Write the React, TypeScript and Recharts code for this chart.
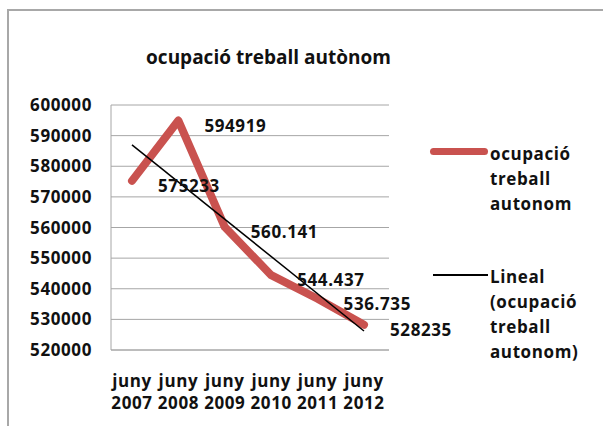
import React from 'react';
import { LineChart, Line, XAxis, YAxis, CartesianGrid, Legend, LabelList, ReferenceLine } from 'recharts';

const categories = ['juny 2007', 'juny 2008', 'juny 2009', 'juny 2010', 'juny 2011', 'juny 2012'];
const ocupacio = [575233, 594919, 560141, 544437, 536735, 528235];
const labelTexts = ['575233', '594919', '560.141', '544.437', '536.735', '528235'];
const yTicks = [520000, 530000, 540000, 550000, 560000, 570000, 580000, 590000, 600000];
// trend line ends
const trendStart = 587000;
const trendEnd = 526200;

const data = categories.map((c, i) => ({ cat: c, value: ocupacio[i] }));

const FONT = '"Open Sans", "Noto Sans", sans-serif';
const RED = '#C9524F';
const GRID = '#a6a6a6';
const FS = 17;
const LS = 0.6;

const XTick = ({ x, y, payload }: any) => {
  const [m, yr] = String(payload.value).split(' ');
  return (
    <text x={x} y={y} textAnchor="middle" fontFamily={FONT} fontWeight={700} fontSize={FS} letterSpacing={LS} fill="#111">
      <tspan x={x} dy={37}>{m}</tspan>
      <tspan x={x} dy={22}>{yr}</tspan>
    </text>
  );
};

const YTick = ({ x, y, payload }: any) => (
  <text x={x} y={y} dy="0.36em" textAnchor="end" fontFamily={FONT} fontWeight={700} fontSize={FS} letterSpacing={LS} fill="#111">
    {payload.value}
  </text>
);

const DataLabel = ({ x, y, index }: any) => (
  <text x={x + 26} y={y + 5} dy="0.36em" textAnchor="start" fontFamily={FONT} fontWeight={700} fontSize={FS} letterSpacing={LS} fill="#111">
    {labelTexts[index]}
  </text>
);

const LegendBox = () => {
  const txt: React.CSSProperties = { fontFamily: FONT, fontWeight: 700, fontSize: FS, letterSpacing: LS, color: '#111', lineHeight: '25px' };
  return (
    <div style={{ position: 'relative', width: 173, height: 240 }}>
      <div style={{ position: 'absolute', left: 0, top: 10, width: 58, height: 7, borderRadius: 4, background: RED }} />
      <div style={{ position: 'absolute', left: 60, top: 3, ...txt }}>
        ocupació<br />treball<br />autonom
      </div>
      <div style={{ position: 'absolute', left: 3, top: 136, width: 55, height: 1.5, background: '#000' }} />
      <div style={{ position: 'absolute', left: 60, top: 126, ...txt }}>
        Lineal<br />(ocupació<br />treball<br />autonom)
      </div>
    </div>
  );
};

export default function App() {
  return (
    <div style={{ position: 'absolute', left: 0, top: 0, width: 603, height: 426, overflow: 'hidden', background: '#fff' }}>
      <div style={{ position: 'absolute', left: 7, top: 9, width: 640, height: 460, border: '2px solid #a8a8a8', boxSizing: 'border-box' }} />
      <div style={{ position: 'absolute', left: 0, top: 44, width: 537, textAlign: 'center', fontFamily: FONT, fontWeight: 700, fontSize: 19, color: '#111' }}>
        ocupació treball autònom
      </div>
      <div style={{ position: 'absolute', left: 0, top: 0 }}>
        <LineChart width={603} height={426} data={data} margin={{ top: 105, right: 214, bottom: 0, left: 0 }}>
          <CartesianGrid horizontal vertical={false} stroke={GRID} />
          <XAxis
            dataKey="cat"
            height={76}
            axisLine={{ stroke: GRID }}
            tickLine={false}
            tickSize={0}
            tickMargin={0}
            interval={0}
            padding={{ left: 21, right: 25 }}
            tick={<XTick />}
          />
          <YAxis
            width={111}
            domain={[520000, 600000]}
            ticks={yTicks}
            axisLine={{ stroke: GRID }}
            tickLine={false}
            tickSize={0}
            tickMargin={19}
            tick={<YTick />}
          />
          <Line
            type="linear"
            dataKey="value"
            stroke={RED}
            strokeWidth={8}
            strokeLinecap="round"
            strokeLinejoin="round"
            dot={false}
            isAnimationActive={false}
          >
            <LabelList dataKey="value" content={<DataLabel />} />
          </Line>
          <ReferenceLine
            segment={[{ x: categories[0], y: trendStart }, { x: categories[categories.length - 1], y: trendEnd }]}
            stroke="#000"
            strokeWidth={1.5}
          />
          <Legend
            layout="vertical"
            align="center"
            verticalAlign="middle"
            content={<LegendBox />}
            wrapperStyle={{ position: 'absolute', left: 430, top: 138, width: 173 }}
          />
        </LineChart>
      </div>
    </div>
  );
}
